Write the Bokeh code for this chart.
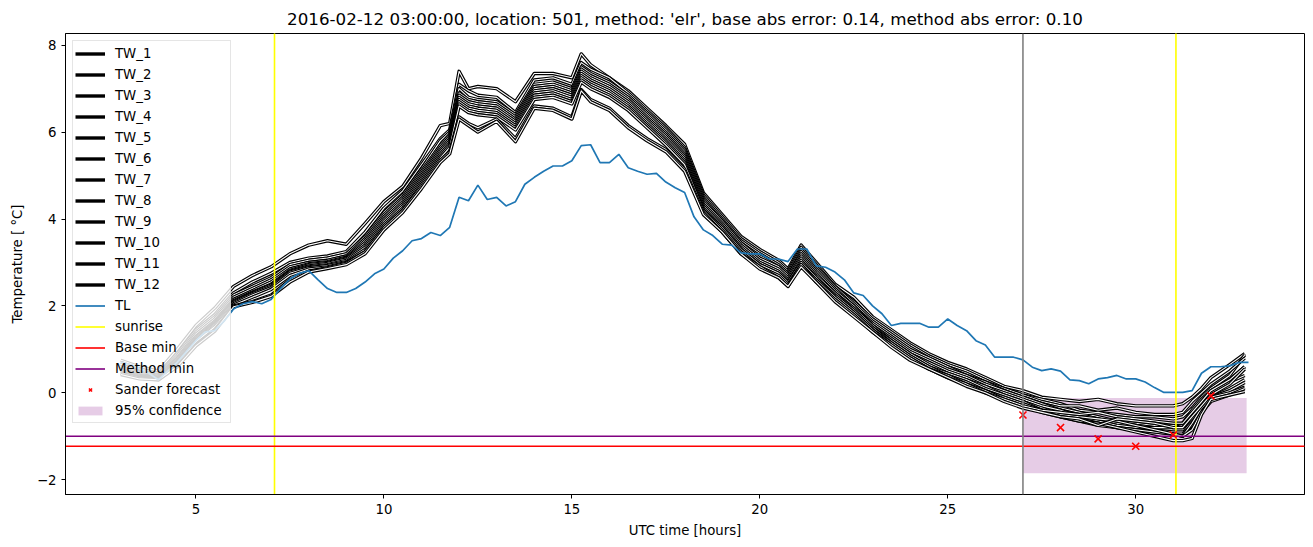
import numpy as np
from bokeh.plotting import figure
from bokeh.models import ColumnDataSource, Span, Legend, LegendItem, FixedTicker, Range1d
from bokeh.embed import file_html
from bokeh.resources import INLINE

title_text = "2016-02-12 03:00:00, location: 501, method: 'elr', base abs error: 0.14, method abs error: 0.10"
x_label = "UTC time [hours]"
y_label = "Temperature [ \u00b0C]"
x_ticks = [5, 10, 15, 20, 25, 30]
y_ticks = [-2, 0, 2, 4, 6, 8]
x_lo, x_hi = 1.53, 34.49
y_lo, y_hi = -2.34, 8.27

# TL (air temperature), every 15 minutes from 03:00 to 33:00
tl_hours = [3.0 + 0.25 * i for i in range(121)]
tl_temp = [
    0.70, 0.65, 0.56, 0.45,
    0.30, 0.50, 0.70, 0.95,
    1.20, 1.40, 1.43, 1.65,
    1.93, 2.05, 2.10, 2.05,
    2.15, 2.40, 2.62, 2.75,
    2.81, 2.60, 2.40, 2.31,
    2.31, 2.40, 2.55, 2.74,
    2.85, 3.10, 3.27, 3.50,
    3.55, 3.69, 3.62, 3.81,
    4.50, 4.42, 4.78, 4.45,
    4.50, 4.30, 4.40, 4.80,
    4.96, 5.10, 5.22, 5.22,
    5.34, 5.69, 5.71, 5.30,
    5.30, 5.49, 5.18, 5.10,
    5.03, 5.05, 4.85, 4.72,
    4.61, 4.05, 3.75, 3.62,
    3.42, 3.40, 3.22, 3.20,
    3.20, 3.08, 3.08, 3.02,
    3.31, 3.31, 2.92, 2.89,
    2.78, 2.60, 2.30, 2.24,
    2.00, 1.82, 1.55, 1.60,
    1.60, 1.60, 1.51, 1.51,
    1.70, 1.55, 1.43, 1.20,
    1.10, 0.82, 0.82, 0.82,
    0.76, 0.59, 0.51, 0.55,
    0.50, 0.30, 0.28, 0.21,
    0.32, 0.35, 0.40, 0.32,
    0.32, 0.25, 0.12, 0.01,
    0.01, 0.01, 0.05, 0.45,
    0.60, 0.60, 0.62, 0.70,
    0.70,
]

# TW_1..TW_12 (road temperature forecasts)
tw_hours = [
    3.0, 3.5, 4.0, 4.5, 5.0, 5.5,
    6.0, 6.5, 7.0, 7.5, 8.0, 8.5, 9.0, 9.5, 10.0, 10.5, 11.0, 11.5,
    11.75, 12.0, 12.25, 12.5,
    13.0, 13.5, 14.0, 14.5, 15.0, 15.25, 15.5, 16.0, 16.5, 17.0, 17.5, 18.0,
    18.5, 19.0, 19.5, 20.0, 20.5, 20.75, 21.1, 21.5, 22.0, 22.5, 23.0, 23.5, 24.0, 24.5, 25.0, 25.5, 26.0, 26.5,
    27.0, 27.5, 28.0, 28.5, 29.0, 29.5, 30.0, 30.5, 31.0, 31.25, 31.5, 31.75, 32.0, 32.5, 32.9,
]
tw_1 = [
    0.75, 0.60, 0.50, 1.00, 1.55, 1.95,
    2.45, 2.70, 2.90, 3.20, 3.40, 3.50, 3.42, 3.90, 4.40, 4.75, 5.40, 6.15,
    6.20, 7.40, 7.00, 7.05,
    7.00, 6.70, 7.35, 7.35, 7.25, 7.80, 7.55, 7.25, 6.95, 6.55, 6.15, 5.72,
    4.60, 4.10, 3.60, 3.30, 3.05, 2.85, 3.40, 3.00, 2.50, 2.20, 1.75, 1.45, 1.15, 0.90, 0.70, 0.55, 0.35, 0.15,
    0.05, -0.10, -0.15, -0.20, -0.15, -0.25, -0.30, -0.30, -0.30, -0.25, -0.10, 0.10, 0.35, 0.65, 0.90,
]
tw_2 = [
    0.70, 0.55, 0.45, 0.90, 1.45, 1.80,
    2.30, 2.55, 2.75, 3.00, 3.10, 3.15, 3.25, 3.70, 4.25, 4.65, 5.25, 5.85,
    6.05, 7.10, 6.95, 6.85,
    6.80, 6.45, 7.20, 7.25, 7.10, 7.60, 7.45, 7.25, 6.90, 6.50, 6.10, 5.65,
    4.55, 4.05, 3.55, 3.25, 3.00, 2.80, 3.35, 2.95, 2.45, 2.10, 1.70, 1.40, 1.10, 0.85, 0.65, 0.50, 0.30, 0.10,
    -0.05, -0.15, -0.25, -0.40, -0.45, -0.50, -0.55, -0.55, -0.60, -0.55, -0.35, -0.10, 0.10, 0.40, 0.87,
]
tw_3 = [
    0.65, 0.50, 0.42, 0.85, 1.40, 1.75,
    2.25, 2.45, 2.65, 2.95, 3.05, 3.10, 3.20, 3.60, 4.15, 4.55, 5.15, 5.80,
    6.00, 7.00, 6.80, 6.75,
    6.70, 6.40, 7.10, 7.15, 7.00, 7.50, 7.35, 7.15, 6.85, 6.45, 6.05, 5.60,
    4.50, 4.00, 3.50, 3.20, 2.95, 2.75, 3.30, 2.90, 2.45, 2.05, 1.65, 1.35, 1.05, 0.80, 0.60, 0.45, 0.25, 0.10,
    -0.05, -0.20, -0.30, -0.30, -0.40, -0.35, -0.45, -0.50, -0.50, -0.45, -0.20, 0.00, 0.20, 0.50, 0.80,
]
tw_4 = [
    0.60, 0.48, 0.40, 0.80, 1.35, 1.70,
    2.20, 2.40, 2.60, 2.90, 3.00, 3.05, 3.15, 3.55, 4.10, 4.50, 5.10, 5.70,
    5.95, 6.90, 6.75, 6.70,
    6.65, 6.35, 7.05, 7.10, 6.95, 7.45, 7.30, 7.10, 6.80, 6.40, 6.00, 5.55,
    4.45, 3.95, 3.45, 3.15, 2.90, 2.70, 3.25, 2.85, 2.40, 2.00, 1.60, 1.30, 1.00, 0.80, 0.60, 0.40, 0.25, 0.05,
    -0.10, -0.25, -0.35, -0.45, -0.55, -0.65, -0.70, -0.75, -0.75, -0.70, -0.40, -0.15, 0.05, 0.30, 0.60,
]
tw_5 = [
    0.58, 0.45, 0.38, 0.78, 1.30, 1.65,
    2.15, 2.35, 2.55, 2.85, 2.97, 3.02, 3.12, 3.50, 4.05, 4.45, 5.05, 5.65,
    5.90, 6.85, 6.70, 6.65,
    6.60, 6.30, 7.00, 7.05, 6.90, 7.40, 7.25, 7.05, 6.75, 6.35, 5.95, 5.50,
    4.40, 3.95, 3.45, 3.10, 2.90, 2.70, 3.20, 2.80, 2.35, 2.00, 1.55, 1.25, 0.95, 0.75, 0.55, 0.40, 0.20, 0.05,
    -0.10, -0.25, -0.40, -0.50, -0.60, -0.70, -0.75, -0.80, -0.85, -0.85, -0.55, -0.25, 0.00, 0.25, 0.40,
]
tw_6 = [
    0.55, 0.42, 0.36, 0.75, 1.28, 1.62,
    2.12, 2.32, 2.50, 2.82, 2.95, 3.00, 3.10, 3.45, 4.00, 4.40, 5.00, 5.60,
    5.85, 6.80, 6.65, 6.60,
    6.55, 6.25, 6.95, 7.00, 6.85, 7.35, 7.20, 7.00, 6.70, 6.30, 5.90, 5.45,
    4.35, 3.90, 3.40, 3.05, 2.85, 2.65, 3.15, 2.75, 2.30, 1.95, 1.55, 1.20, 0.90, 0.70, 0.50, 0.35, 0.15, 0.00,
    -0.15, -0.30, -0.40, -0.55, -0.65, -0.75, -0.80, -0.80, -0.80, -0.80, -0.60, -0.35, -0.10, 0.10, 0.30,
]
tw_7 = [
    0.52, 0.40, 0.35, 0.72, 1.25, 1.60,
    2.10, 2.30, 2.48, 2.80, 2.92, 2.98, 3.08, 3.40, 3.95, 4.35, 4.95, 5.55,
    5.80, 6.75, 6.60, 6.55,
    6.50, 6.20, 6.90, 6.95, 6.80, 7.30, 7.15, 6.95, 6.65, 6.25, 5.85, 5.40,
    4.30, 3.85, 3.35, 3.00, 2.80, 2.60, 3.10, 2.70, 2.30, 1.90, 1.50, 1.20, 0.90, 0.65, 0.45, 0.30, 0.15, -0.05,
    -0.20, -0.35, -0.50, -0.60, -0.70, -0.80, -0.85, -0.90, -0.95, -0.95, -0.75, -0.40, -0.10, 0.05, 0.24,
]
tw_8 = [
    0.50, 0.38, 0.34, 0.70, 1.22, 1.58,
    2.08, 2.28, 2.45, 2.78, 2.90, 2.95, 3.05, 3.35, 3.90, 4.30, 4.90, 5.50,
    5.75, 6.70, 6.55, 6.50,
    6.45, 6.15, 6.85, 6.90, 6.75, 7.25, 7.10, 6.90, 6.60, 6.20, 5.80, 5.35,
    4.25, 3.80, 3.30, 2.95, 2.75, 2.55, 3.05, 2.65, 2.25, 1.90, 1.50, 1.15, 0.85, 0.60, 0.45, 0.30, 0.10, -0.05,
    -0.20, -0.40, -0.55, -0.65, -0.75, -0.80, -0.85, -0.90, -0.95, -1.00, -0.70, -0.35, -0.10, 0.00, 0.13,
]
tw_9 = [
    0.48, 0.36, 0.33, 0.68, 1.20, 1.55,
    2.05, 2.25, 2.42, 2.75, 2.88, 2.93, 3.02, 3.30, 3.85, 4.25, 4.85, 5.45,
    5.70, 6.65, 6.50, 6.45,
    6.40, 6.10, 6.80, 6.85, 6.70, 7.20, 7.05, 6.85, 6.55, 6.15, 5.75, 5.30,
    4.20, 3.80, 3.30, 2.95, 2.75, 2.55, 3.00, 2.65, 2.20, 1.85, 1.45, 1.15, 0.85, 0.60, 0.40, 0.25, 0.05, -0.10,
    -0.25, -0.40, -0.50, -0.55, -0.60, -0.65, -0.75, -0.85, -0.95, -1.00, -0.85, -0.45, -0.20, -0.05, 0.10,
]
tw_10 = [
    0.45, 0.35, 0.32, 0.65, 1.18, 1.52,
    2.02, 2.20, 2.38, 2.70, 2.85, 2.90, 3.00, 3.25, 3.80, 4.20, 4.80, 5.40,
    5.65, 6.60, 6.45, 6.40,
    6.35, 6.05, 6.75, 6.80, 6.65, 7.15, 7.00, 6.80, 6.50, 6.10, 5.70, 5.25,
    4.20, 3.75, 3.25, 2.90, 2.70, 2.50, 2.95, 2.60, 2.20, 1.85, 1.45, 1.10, 0.80, 0.55, 0.40, 0.20, 0.05, -0.15,
    -0.30, -0.45, -0.55, -0.65, -0.70, -0.80, -0.90, -1.00, -1.10, -1.10, -1.05, -0.50, -0.15, -0.05, 0.03,
]
tw_11 = [
    0.45, 0.34, 0.30, 0.62, 1.10, 1.45,
    2.00, 2.10, 2.25, 2.60, 2.80, 2.88, 2.98, 3.25, 3.80, 4.20, 4.75, 5.35,
    5.55, 6.35, 6.20, 6.10,
    6.30, 5.85, 6.60, 6.55, 6.35, 6.98, 6.75, 6.55, 6.15, 5.85, 5.60, 5.15,
    4.15, 3.70, 3.20, 2.90, 2.65, 2.45, 2.95, 2.55, 2.15, 1.80, 1.40, 1.10, 0.80, 0.55, 0.35, 0.20, 0.00, -0.15,
    -0.30, -0.40, -0.45, -0.50, -0.45, -0.55, -0.60, -0.65, -0.70, -0.70, -0.45, -0.20, 0.05, 0.30, 0.60,
]
tw_12 = [
    0.42, 0.32, 0.30, 0.60, 1.08, 1.42,
    1.98, 2.08, 2.22, 2.55, 2.78, 2.86, 2.95, 3.20, 3.75, 4.15, 4.70, 5.30,
    5.50, 6.30, 6.15, 6.00,
    6.25, 5.78, 6.55, 6.50, 6.30, 6.95, 6.70, 6.50, 6.10, 5.80, 5.55, 5.10,
    4.10, 3.70, 3.20, 2.85, 2.65, 2.45, 2.90, 2.55, 2.10, 1.75, 1.40, 1.05, 0.75, 0.55, 0.35, 0.15, 0.00, -0.20,
    -0.35, -0.45, -0.55, -0.60, -0.75, -0.60, -0.65, -0.70, -0.80, -0.80, -0.55, -0.30, -0.05, 0.20, 0.55,
]
tw_series = [tw_1, tw_2, tw_3, tw_4, tw_5, tw_6, tw_7, tw_8, tw_9, tw_10, tw_11, tw_12]
tw_names = ["TW_%d" % (i + 1) for i in range(12)]

sunrise_hours = [7.09, 31.07]
forecast_start = 27.0
base_min = [-1.23]
method_min = [-1.0]
sander_hours = [27, 28, 29, 30, 31, 32]
sander_temp = [-0.51, -0.80, -1.06, -1.23, -0.97, -0.07]
conf_left = [27.0]
conf_right = [32.95]
conf_bottom = [-1.85]
conf_top = [-0.12]

assert len(tl_hours) == len(tl_temp), (len(tl_hours), len(tl_temp))
for nm, s in zip(tw_names, tw_series):
    assert len(s) == len(tw_hours), (nm, len(s), len(tw_hours))

FONT = "DejaVu Sans"

p = figure(frame_width=1239, frame_height=461,
           x_range=Range1d(x_lo, x_hi), y_range=Range1d(y_lo, y_hi),
           output_backend="svg", toolbar_location=None,
           min_border_left=65, min_border_right=8, min_border_top=33, min_border_bottom=52,
           title=title_text)
p.title.align = "center"
p.title.text_font = FONT
p.title.text_font_style = "normal"
p.title.text_font_size = "16.7px"
p.title.text_color = "black"
p.title.standoff = 9
p.background_fill_color = "white"
p.border_fill_color = "white"
p.outline_line_color = "black"
p.outline_line_width = 1
p.xgrid.grid_line_color = None
p.ygrid.grid_line_color = None

for ax in (p.xaxis[0], p.yaxis[0]):
    ax.axis_line_color = "black"
    ax.major_tick_line_color = "black"
    ax.major_tick_out = 4
    ax.major_tick_in = 0
    ax.minor_tick_out = 0
    ax.minor_tick_in = 0
    ax.major_label_text_font = FONT
    ax.major_label_text_font_size = "13.3px"
    ax.major_label_text_color = "black"
    ax.axis_label_text_font = FONT
    ax.axis_label_text_font_size = "13.3px"
    ax.axis_label_text_font_style = "normal"
    ax.axis_label_text_color = "black"
p.xaxis.ticker = FixedTicker(ticks=x_ticks)
p.yaxis.ticker = FixedTicker(ticks=y_ticks)
p.yaxis.major_label_overrides = {t: ("\u2212%d" % -t if t < 0 else "%d" % t) for t in y_ticks}
p.xaxis.axis_label = x_label
p.yaxis.axis_label = y_label
p.xaxis.axis_label_standoff = 6
p.yaxis.axis_label_standoff = 9
p.xaxis.major_label_standoff = 5
p.yaxis.major_label_standoff = 5

items = []

# 95% confidence (drawn underneath)
conf_src = ColumnDataSource(dict(left=conf_left, right=conf_right, bottom=conf_bottom, top=conf_top))
r_conf = p.quad(left="left", right="right", bottom="bottom", top="top", source=conf_src,
                fill_color="purple", fill_alpha=0.2, line_color=None)

# TW lines: black stroke with thin white core
for nm, s in zip(tw_names, tw_series):
    src = ColumnDataSource(dict(x=tw_hours, y=s))
    rb = p.line("x", "y", source=src, line_color="black", line_width=3.4, line_join="round")
    p.line("x", "y", source=src, line_color="white", line_width=1.1, line_join="round")
    items.append(LegendItem(label=nm, renderers=[rb]))

tl_src = ColumnDataSource(dict(x=tl_hours, y=tl_temp))
r_tl = p.line("x", "y", source=tl_src, line_color="#1f77b4", line_width=1.7)
items.append(LegendItem(label="TL", renderers=[r_tl]))

# gray line: start of the forecast
p.add_layout(Span(location=forecast_start, dimension="height", line_color="gray", line_width=1.6))

# sunrise (vertical, infinite rays upward from the bottom of the axis)
sun_src = ColumnDataSource(dict(x=sunrise_hours, y=[y_lo] * len(sunrise_hours)))
r_sun = p.ray("x", "y", source=sun_src, length=0, angle=np.pi / 2,
              line_color="yellow", line_width=1.6)
items.append(LegendItem(label="sunrise", renderers=[r_sun]))

base_src = ColumnDataSource(dict(x=[x_lo], y=base_min))
r_base = p.ray("x", "y", source=base_src, length=0, angle=0, line_color="red", line_width=1.6)
items.append(LegendItem(label="Base min", renderers=[r_base]))

meth_src = ColumnDataSource(dict(x=[x_lo], y=method_min))
r_meth = p.ray("x", "y", source=meth_src, length=0, angle=0, line_color="purple", line_width=1.6)
items.append(LegendItem(label="Method min", renderers=[r_meth]))

sander_src = ColumnDataSource(dict(x=sander_hours, y=sander_temp))
r_sander = p.scatter("x", "y", source=sander_src, marker="x", size=10, line_color="red", line_width=1.6)
items.append(LegendItem(label="Sander forecast", renderers=[r_sander]))
items.append(LegendItem(label="95% confidence", renderers=[r_conf]))

legend = Legend(items=items, location="top_left", margin=7, padding=2, spacing=1,
                glyph_width=30, glyph_height=11, label_height=20, label_width=113,
                label_standoff=10, label_text_font=FONT, label_text_font_size="13.3px",
                label_text_color="black",
                background_fill_color="white", background_fill_alpha=0.8,
                border_line_color="#cccccc", border_line_width=1)
p.add_layout(legend)

open("out.html", "w").write(file_html(p, INLINE))
